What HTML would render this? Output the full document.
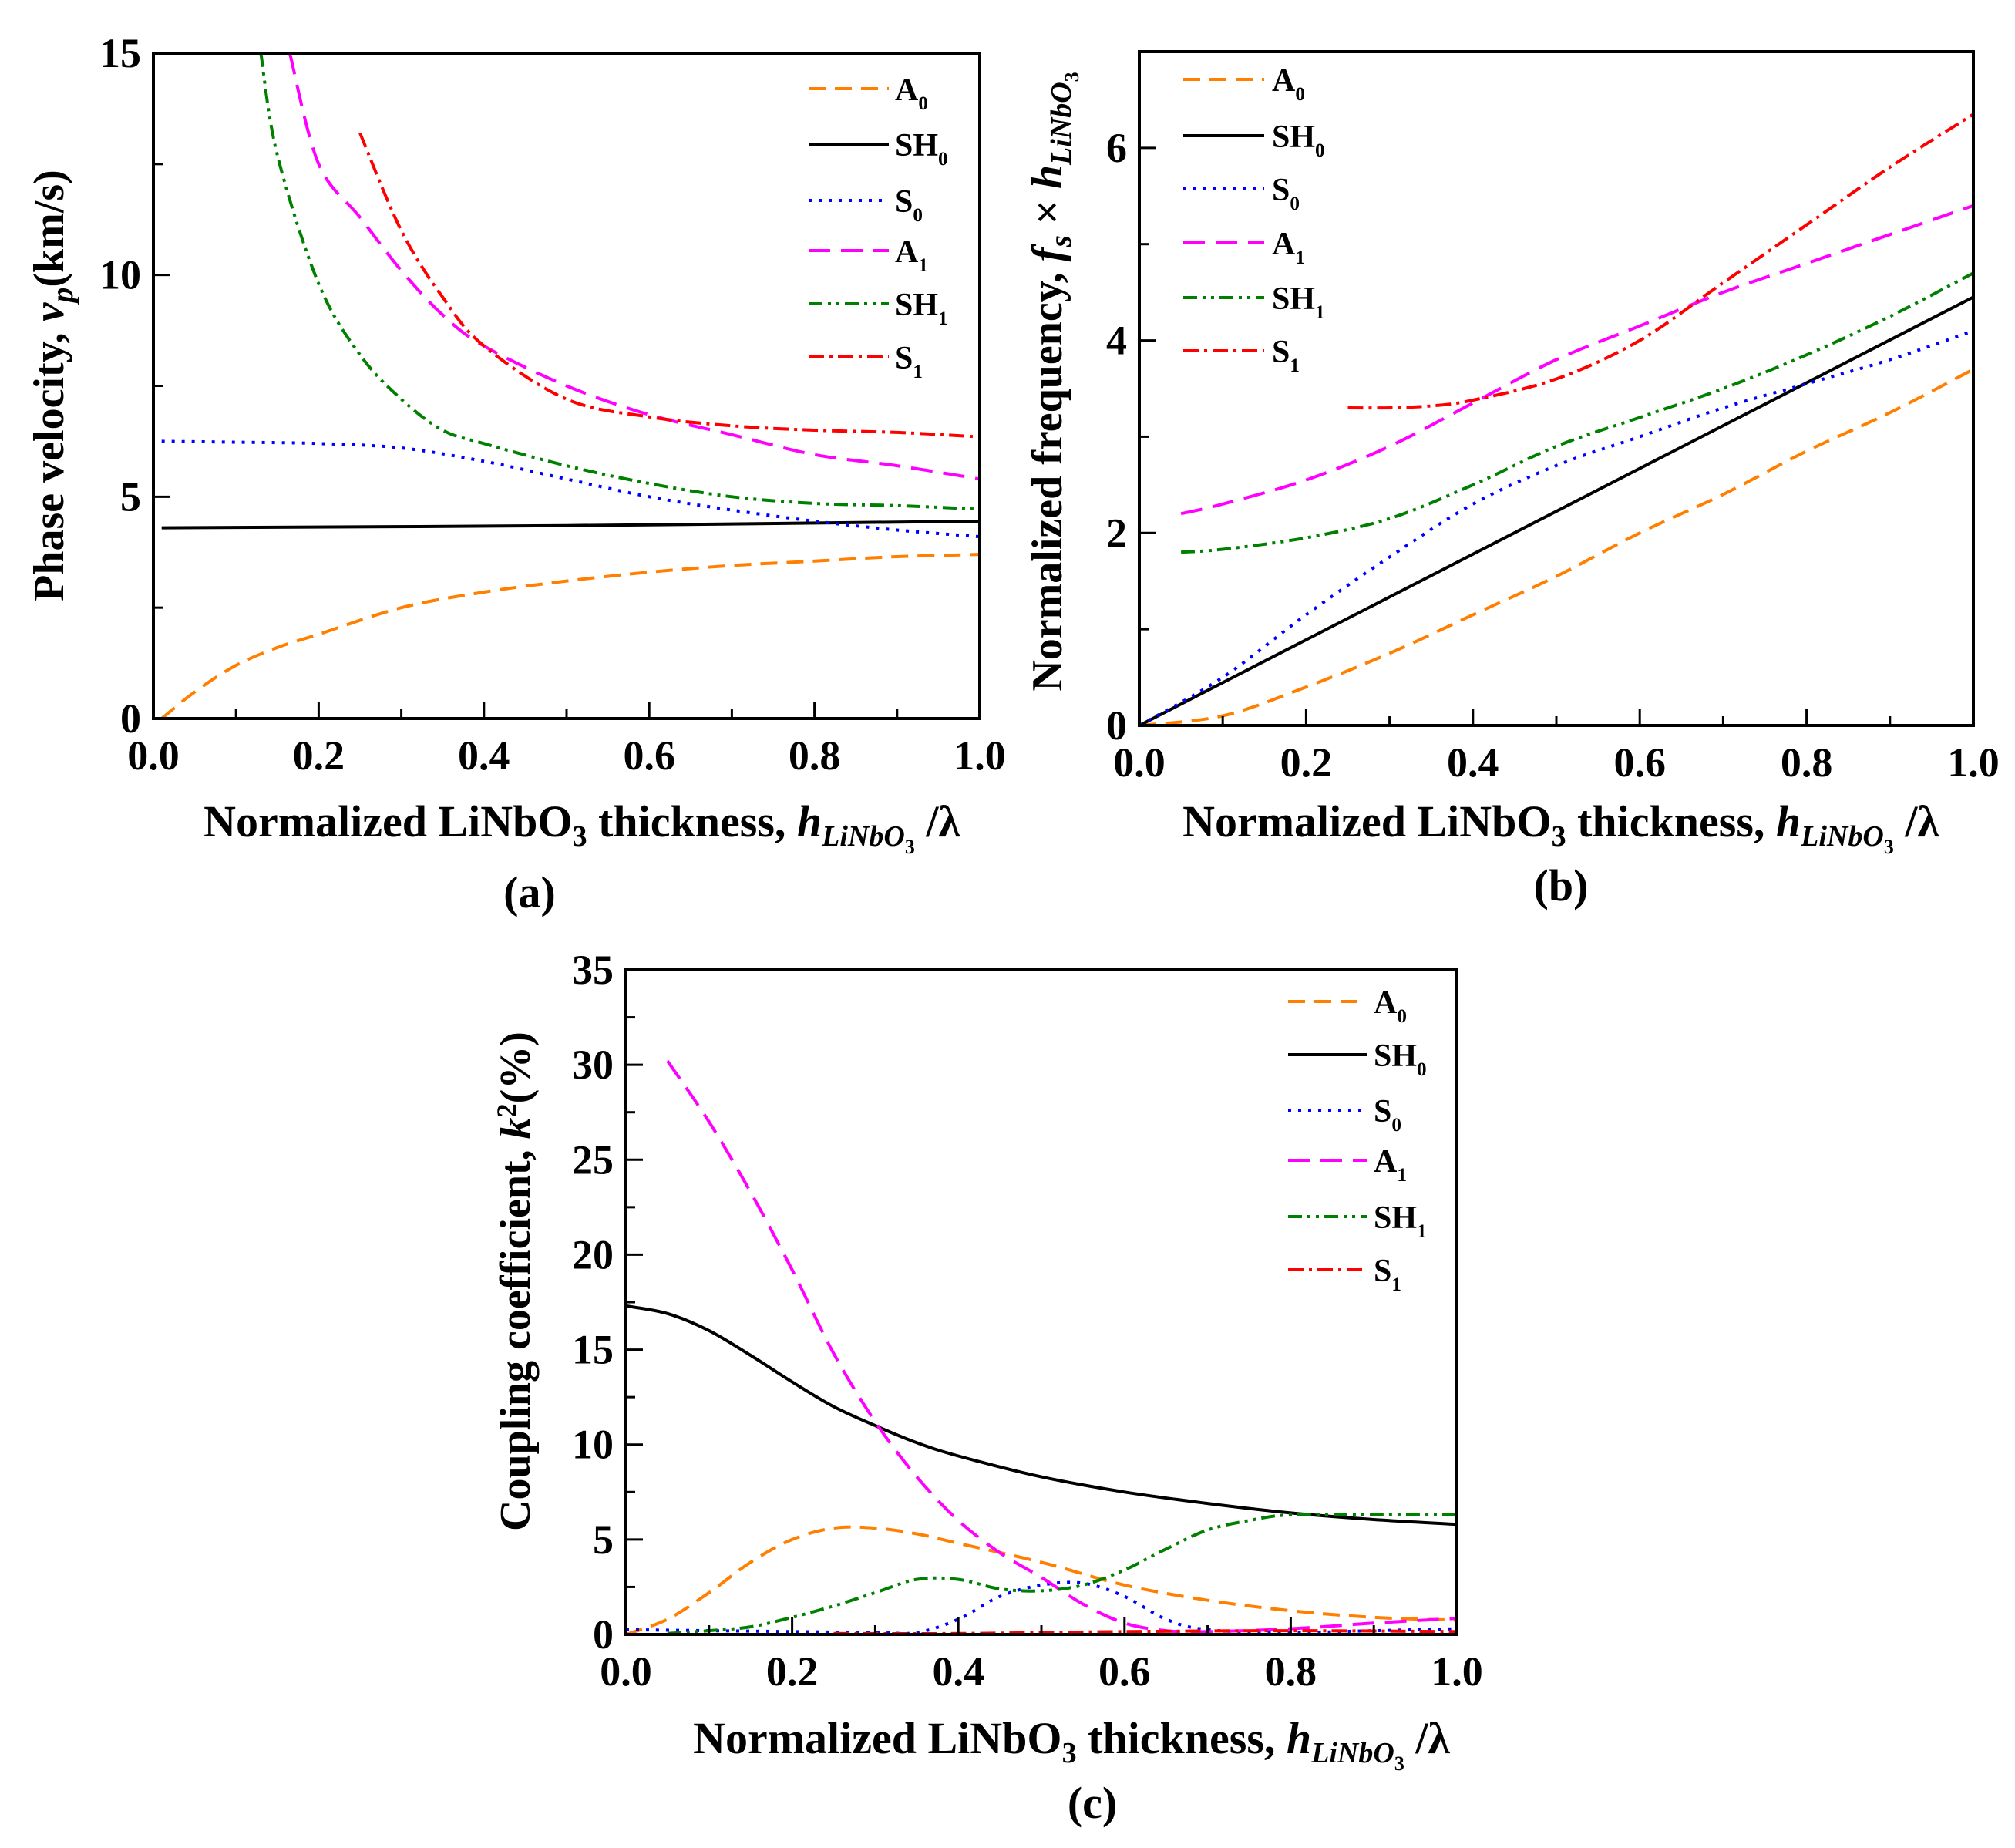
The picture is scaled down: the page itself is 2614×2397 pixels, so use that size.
<!DOCTYPE html>
<html><head><meta charset="utf-8"><style>
html,body{margin:0;padding:0;background:#fff;}
svg{display:block;}
text{font-family:"Liberation Serif",serif;font-weight:bold;fill:#000;}
</style></head><body>
<svg id="fig" width="2614" height="2397" viewBox="0 0 2614 2397" xmlns="http://www.w3.org/2000/svg">
<rect width="2614" height="2397" fill="#fff"/>
</svg>
<script>
// ---- data: panel (a) phase velocity ----
const aA0x=[0.01,0.05,0.1,0.15,0.2,0.3,0.4,0.5,0.6,0.7,0.8,0.9,1.0];
const aA0y=[0,0.6,1.2,1.6,1.9,2.5,2.85,3.1,3.3,3.45,3.55,3.65,3.7];
const aSH0x=[0.01,0.5,1.0];
const aSH0y=[4.3,4.35,4.45];
const aS0x=[0.01,0.1,0.2,0.3,0.4,0.5,0.6,0.7,0.8,0.9,1.0];
const aS0y=[6.25,6.23,6.2,6.1,5.8,5.4,5.0,4.7,4.45,4.25,4.1];
const aA1x=[0.165,0.2,0.25,0.3,0.35,0.4,0.5,0.6,0.7,0.8,0.9,1.0];
const aA1y=[15,12.5,11.3,10.1,9.1,8.4,7.5,6.85,6.4,5.95,5.7,5.4];
const aSH1x=[0.13,0.15,0.2,0.25,0.3,0.35,0.4,0.5,0.6,0.7,0.8,0.9,1.0];
const aSH1y=[15,12.7,9.8,8.2,7.2,6.5,6.2,5.7,5.3,5.0,4.85,4.8,4.72];
const aS1x=[0.25,0.3,0.35,0.4,0.5,0.6,0.7,0.8,0.9,1.0];
const aS1y=[13.2,11,9.5,8.4,7.2,6.8,6.6,6.5,6.45,6.35];
// ---- data: panel (b) normalized frequency ----
const bA0x=[0,0.1,0.2,0.3,0.4,0.5,0.6,0.7,0.8,0.9,1.0];
const bA0y=[0,0.1,0.4,0.75,1.15,1.55,2.0,2.4,2.85,3.25,3.7];
const bSH0x=[0,1.0];
const bSH0y=[0,4.45];
const bS0x=[0,0.1,0.2,0.3,0.4,0.5,0.6,0.7,0.8,0.9,1.0];
const bS0y=[0,0.5,1.15,1.75,2.3,2.7,3.0,3.3,3.55,3.8,4.1];
const bA1x=[0.05,0.1,0.2,0.3,0.4,0.5,0.6,0.7,0.8,0.9,1.0];
const bA1y=[2.2,2.3,2.55,2.9,3.35,3.8,4.15,4.5,4.8,5.1,5.4];
const bSH1x=[0.05,0.1,0.2,0.3,0.4,0.5,0.6,0.7,0.8,0.9,1.0];
const bSH1y=[1.8,1.83,1.95,2.15,2.5,2.9,3.2,3.5,3.85,4.25,4.7];
const bS1x=[0.25,0.3,0.35,0.4,0.5,0.6,0.7,0.8,0.9,1.0];
const bS1y=[3.3,3.3,3.32,3.38,3.6,4.0,4.6,5.2,5.8,6.35];
// ---- data: panel (c) coupling coefficient ----
const cA0x=[0,0.05,0.1,0.15,0.2,0.25,0.3,0.35,0.4,0.5,0.6,0.7,0.8,0.9,1.0];
const cA0y=[0,0.8,2.2,3.8,5.0,5.6,5.6,5.3,4.8,3.8,2.6,1.8,1.25,0.9,0.75];
const cSH0x=[0,0.05,0.1,0.15,0.2,0.25,0.3,0.35,0.4,0.5,0.6,0.7,0.8,0.9,1.0];
const cSH0y=[17.3,16.9,16.0,14.7,13.3,12.0,11.0,10.1,9.4,8.3,7.5,6.9,6.4,6.05,5.8];
const cS0x=[0,0.1,0.2,0.3,0.35,0.4,0.45,0.5,0.55,0.6,0.65,0.7,0.8,0.9,1.0];
const cS0y=[0.25,0.2,0.15,0.1,0.1,0.8,2.0,2.6,2.7,2.0,0.8,0.25,0.1,0.2,0.3];
const cA1x=[0.05,0.1,0.15,0.2,0.25,0.3,0.35,0.4,0.45,0.5,0.55,0.6,0.65,0.7,0.8,0.9,1.0];
const cA1y=[30.2,27,23.3,19.2,14.8,11.2,8.3,6.0,4.3,3.0,1.6,0.6,0.2,0.15,0.3,0.6,0.85];
const cSH1x=[0.05,0.1,0.15,0.2,0.25,0.3,0.35,0.4,0.45,0.5,0.55,0.6,0.65,0.7,0.75,0.8,0.9,1.0];
const cSH1y=[0.05,0.2,0.4,0.9,1.5,2.2,2.9,2.9,2.4,2.3,2.6,3.4,4.5,5.5,6.0,6.3,6.3,6.3];
const cS1x=[0.25,0.4,0.6,0.8,1.0];
const cS1y=[0.05,0.05,0.15,0.2,0.15];
// ---- tick labels ----
const xTickLabels=["0.0","0.2","0.4","0.6","0.8","1.0"];
const aYTicks=[0,5,10,15];
const bYTicks=[0,2,4,6];
const cYTicks=[0,5,10,15,20,25,30,35];
const legendNames=["A","SH","S","A","SH","S"];
const legendSubs=["0","0","0","1","1","1"];

const NS="http://www.w3.org/2000/svg";
const svg=document.getElementById('fig');
function mk(tag,attrs,parent){const e=document.createElementNS(NS,tag);for(const k in attrs)e.setAttribute(k,attrs[k]);(parent||svg).appendChild(e);return e;}
const styles=[
 {c:"#FF8000",d:"22,12"},
 {c:"#000000",d:""},
 {c:"#0000FF",d:"4,9"},
 {c:"#FF00FF",d:"28,14"},
 {c:"#008000",d:"18,7,4,7,4,7"},
 {c:"#FF0000",d:"20,7,4,7"}];

function smooth(pts){
  if(pts.length<3) return pts.map((p,i)=>(i?'L':'M')+p[0].toFixed(1)+','+p[1].toFixed(1)).join(' ');
  let d='M'+pts[0][0].toFixed(1)+','+pts[0][1].toFixed(1);
  for(let i=0;i<pts.length-1;i++){
    const p0=pts[Math.max(0,i-1)],p1=pts[i],p2=pts[i+1],p3=pts[Math.min(pts.length-1,i+2)];
    const c1=[p1[0]+(p2[0]-p0[0])/6,p1[1]+(p2[1]-p0[1])/6];
    const c2=[p2[0]-(p3[0]-p1[0])/6,p2[1]-(p3[1]-p1[1])/6];
    d+=' C'+c1[0].toFixed(1)+','+c1[1].toFixed(1)+' '+c2[0].toFixed(1)+','+c2[1].toFixed(1)+' '+p2[0].toFixed(1)+','+p2[1].toFixed(1);
  }
  return d;
}

function panel(id,L,R,T,B,ymax,ymajor,yminor,yTicks,series,leg){
  const g=mk('g',{});
  
  
  const sx=v=>L+(R-L)*v, sy=v=>B-(B-T)*v/ymax;
  const clip=mk('clipPath',{id:'clip'+id},g);
  mk('rect',{x:L,y:T,width:R-L,height:B-T},clip);
  const names=['a0','sh0','s0','a1','sh1','s1'];
  series.forEach((s,i)=>{
    const pts=s[0].map((x,j)=>[sx(x),sy(s[1][j])]);
    const p=mk('path',{d:smooth(pts),fill:'none',stroke:styles[i].c,'stroke-width':4,'stroke-dasharray':styles[i].d,'clip-path':'url(#clip'+id+')','stroke-linejoin':'round'},g);
    
    
  });
  for(let k=0;k<=10;k++){const x=sx(k/10);const len=k%2?12:22;mk('line',{x1:x,y1:B,x2:x,y2:B-len,stroke:'#000','stroke-width':3},g);}
  for(let v=0;v<=ymax+1e-9;v+=yminor){const y=sy(v);const maj=Math.abs(v/ymajor-Math.round(v/ymajor))<1e-6;mk('line',{x1:L,y1:y,x2:L+(maj?22:12),y2:y,stroke:'#000','stroke-width':3},g);}
  const fr=mk('rect',{x:L,y:T,width:R-L,height:B-T,fill:'none',stroke:'#000','stroke-width':4},g);
  
  
  xTickLabels.forEach((t,k)=>{const e=mk('text',{x:sx(k*0.2),y:B+66,'text-anchor':'middle','font-size':54},g);e.textContent=t;
    });
  yTicks.forEach(v=>{const e=mk('text',{x:L-16,y:sy(v)+18,'text-anchor':'end','font-size':54},g);e.textContent=v;
    });
  leg.rows.forEach((y,i)=>{
    const lg=mk('g',{},g);
    
    
    mk('line',{x1:leg.x1,y1:y,x2:leg.x2,y2:y,stroke:styles[i].c,'stroke-width':4,'stroke-dasharray':styles[i].d},lg);
    const t=mk('text',{x:leg.tx,y:y+15,'font-size':leg.fs,'font-weight':leg.fw},lg);
    t.textContent=legendNames[i];
    const sb=mk('tspan',{'font-size':leg.fs*0.6,dy:12},t);sb.textContent=legendSubs[i];
  });
  return g;
}
panel('a',199,1271,69,932,15,5,2.5,aYTicks,
 [[aA0x,aA0y],[aSH0x,aSH0y],[aS0x,aS0y],[aA1x,aA1y],[aSH1x,aSH1y],[aS1x,aS1y]],
 {x1:1049,x2:1153,tx:1161,rows:[115,187,260,325,394,463],fs:42,fw:'bold'});
panel('b',1478,2560,67,941,7,2,1,bYTicks,
 [[bA0x,bA0y],[bSH0x,bSH0y],[bS0x,bS0y],[bA1x,bA1y],[bSH1x,bSH1y],[bS1x,bS1y]],
 {x1:1535,x2:1640,tx:1650,rows:[103,176,245,315,386,455],fs:42,fw:'bold'});
panel('c',812,1890,1258,2120,35,5,2.5,cYTicks,
 [[cA0x,cA0y],[cSH0x,cSH0y],[cS0x,cS0y],[cA1x,cA1y],[cSH1x,cSH1y],[cS1x,cS1y]],
 {x1:1671,x2:1774,tx:1782,rows:[1299,1368,1440,1505,1578,1647],fs:42,fw:'normal'});
</script>
<script>
(function(){
const NS="http://www.w3.org/2000/svg";const svg=document.getElementById('fig');
function t(x,y,html,name,rot,fs){const e=document.createElementNS(NS,'text');e.setAttribute('x',x);e.setAttribute('y',y);e.setAttribute('text-anchor','middle');e.setAttribute('font-size',fs||58);
 if(rot)e.setAttribute('transform','rotate(-90 '+x+' '+y+')');e.innerHTML=html;
 
 
 svg.appendChild(e);}
const xt='Normalized LiNbO<tspan font-size="38" dy="12">3</tspan><tspan dy="-12"> thickness, </tspan><tspan font-style="italic">h</tspan><tspan font-style="italic" font-size="38" dy="12">LiNbO</tspan><tspan font-size="26" dy="10">3</tspan><tspan dy="-22"> /λ</tspan>';
t(755,1085,xt,'x-axis-title-a');
t(2025,1085,xt,'x-axis-title-b');
t(1390,2274,xt,'x-axis-title-c');
t(82,500,'Phase velocity, <tspan font-style="italic">v</tspan><tspan font-style="italic" font-size="40" dy="12">p</tspan><tspan dy="-12">(km/s)</tspan>','y-axis-title-a',true,56);
t(1377,495,'Normalized frequency, <tspan font-style="italic">f</tspan><tspan font-style="italic" font-size="40" dy="12">s</tspan><tspan dy="-12"> × </tspan><tspan font-style="italic">h</tspan><tspan font-style="italic" font-size="38" dy="12">LiNbO</tspan><tspan font-size="26" dy="10">3</tspan>','y-axis-title-b',true,56);
t(687,1662,'Coupling coefficient, <tspan font-style="italic">k</tspan><tspan font-size="36" dy="-18">2</tspan><tspan dy="18">(%)</tspan>','y-axis-title-c',true,56);
t(687,1177,'(a)','panel-label-a',false,58);
t(2025,1168,'(b)','panel-label-b',false,58);
t(1417,2358,'(c)','panel-label-c',false,58);
})();
</script>
</body></html>
